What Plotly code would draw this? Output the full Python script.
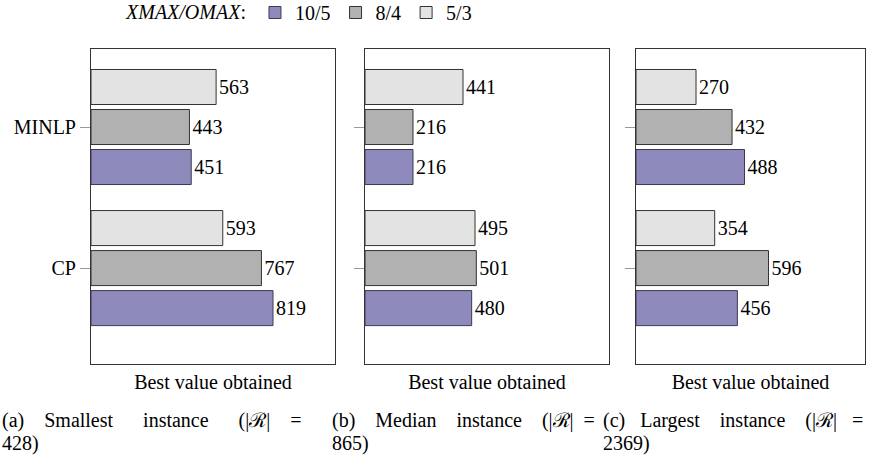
import plotly.graph_objects as go

categories = ["CP", "MINLP"]
series_names = ["10/5", "8/4", "5/3"]
values_a = {"10/5": [819, 451], "8/4": [767, 443], "5/3": [593, 563]}
values_b = {"10/5": [480, 216], "8/4": [501, 216], "5/3": [495, 441]}
values_c = {"10/5": [456, 488], "8/4": [596, 432], "5/3": [354, 270]}
panels = [values_a, values_b, values_c]
x_max = [1098, 1098, 1030]
caption_words = [["(a)", "Smallest", "instance", "(|ℛ|", "="],
                 ["(b)", "Median", "instance", "(|ℛ|", "="],
                 ["(c)", "Largest", "instance", "(|ℛ|", "="]]
caption_ends = ["428)", "865)", "2369)"]
axis_title = "Best value obtained"

fills = {"10/5": "#8e8abb", "8/4": "#b1b1b1", "5/3": "#e3e3e3"}
edges = {"10/5": "#3c3a52", "8/4": "#333333", "5/3": "#333333"}

W, H = 870, 456
FONT = "'Liberation Serif', 'Times New Roman', Times, serif"
xdoms = [(91, 335), (365, 609), (636, 865)]
ytop, ybot = 49, 364
caption_x = [0, 330, 601]
# word gaps (in non-breaking spaces) imitating the justified captions
caption_gaps = [[4, 6, 6, 4], [4, 4, 4, 2], [3, 4, 4, 3]]


def px(x):
    return x / W


def py(y):
    return 1 - y / H


def justify(words, gaps):
    out = words[0]
    for w, g in zip(words[1:], gaps):
        out += "\u00a0" * g + w
    return out


fig = go.Figure()
for i, vals in enumerate(panels):
    ax = "" if i == 0 else str(i + 1)
    for s in series_names:
        fig.add_trace(go.Bar(
            y=categories, x=vals[s], orientation="h", name=s,
            marker=dict(color=fills[s], line=dict(color=edges[s], width=1)),
            text=[str(v) for v in vals[s]], textposition="outside",
            textfont=dict(family=FONT, size=20, color="black"),
            cliponaxis=False, showlegend=(i == 0),
            xaxis="x" + ax, yaxis="y" + ax,
        ))
    x0, x1 = xdoms[i]
    fig.layout["xaxis" + ax] = dict(
        domain=[px(x0), px(x1)], range=[0, x_max[i]], anchor="y" + ax,
        showline=True, mirror=True, linecolor="#333", linewidth=1,
        showgrid=False, zeroline=False, showticklabels=False, ticks="",
        title=dict(text=axis_title, font=dict(family=FONT, size=20, color="black"), standoff=10),
    )
    fig.layout["yaxis" + ax] = dict(
        domain=[py(ybot), py(ytop)], anchor="x" + ax,
        type="category", categoryorder="array", categoryarray=categories,
        range=[-0.68, 1.553],
        showline=True, mirror=True, linecolor="#333", linewidth=1,
        showgrid=False, zeroline=False,
        ticks="outside", ticklen=10, tickcolor="#999", tickwidth=1,
        showticklabels=(i == 0),
        tickfont=dict(family=FONT, size=20, color="black"),
    )
    cx = caption_x[i]
    fig.add_annotation(x=px(cx), y=py(420), xref="paper", yref="paper",
                       xanchor="left", yanchor="middle", showarrow=False,
                       text=justify(caption_words[i], caption_gaps[i]),
                       font=dict(family=FONT, size=20, color="black"))
    fig.add_annotation(x=px(cx), y=py(443), xref="paper", yref="paper",
                       xanchor="left", yanchor="middle", showarrow=False,
                       text=caption_ends[i], font=dict(family=FONT, size=20, color="black"))

fig.update_layout(
    width=W, height=H, margin=dict(l=0, r=0, t=0, b=0, autoexpand=False),
    paper_bgcolor="white", plot_bgcolor="white",
    barmode="group", bargap=0.149, bargroupgap=0.125,
    font=dict(family=FONT, size=20, color="black"),
    legend=dict(orientation="h", x=px(124), y=1 + 7 / H, xanchor="left", yanchor="top",
                title=dict(text="<i>XMAX/OMAX</i>:", side="left",
                           font=dict(family=FONT, size=20)),
                font=dict(family=FONT, size=20), itemwidth=30,
                traceorder="normal", bgcolor="rgba(0,0,0,0)"),
)
fig.write_html("out.html", config={"displayModeBar": False},
               post_script="document.body.style.margin='0';document.body.style.overflow='hidden';")
